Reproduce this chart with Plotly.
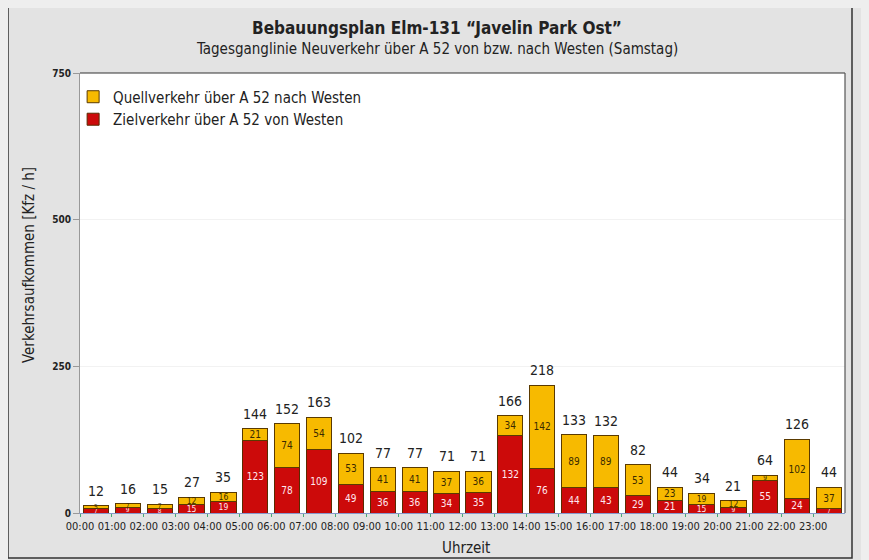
import plotly.graph_objects as go

hours = ["00:00", "01:00", "02:00", "03:00", "04:00", "05:00", "06:00", "07:00",
         "08:00", "09:00", "10:00", "11:00", "12:00", "13:00", "14:00", "15:00",
         "16:00", "17:00", "18:00", "19:00", "20:00", "21:00", "22:00", "23:00"]
ziel = [7, 9, 8, 15, 19, 123, 78, 109, 49, 36, 36, 34, 35, 132, 76, 44, 43, 29, 21, 15, 9, 55, 24, 7]
quell = [5, 7, 7, 12, 16, 21, 74, 54, 53, 41, 41, 37, 36, 34, 142, 89, 89, 53, 23, 19, 12, 9, 102, 37]
totals = [12, 16, 15, 27, 35, 144, 152, 163, 102, 77, 77, 71, 71, 166, 218, 133, 132, 82, 44, 34, 21, 64, 126, 44]
y_ticks = [0, 250, 500, 750]

FONT = "DejaVu Sans Condensed, Roboto, sans-serif"
xpos = [i + 0.5 for i in range(len(hours))]


def seg_sizes(vals):
    # very thin segments get a smaller label, as in the original
    return [6.5 if v < 10 else (8.5 if v < 20 else 10) for v in vals]


fig = go.Figure()
fig.add_trace(go.Bar(
    x=xpos, y=ziel, name="Zielverkehr über A 52 von Westen", legendgroup="z",
    marker=dict(color="#CC0A0A", line=dict(color="#5a2a00", width=1)),
    text=[str(v) for v in ziel], textposition="inside", insidetextanchor="middle",
    constraintext="none", textangle=0,
    textfont=dict(color="#ffe8f0", size=seg_sizes(ziel), family=FONT), legendrank=2,
    width=0.79,
))
fig.add_trace(go.Bar(
    x=xpos, y=quell, name="Quellverkehr über A 52 nach Westen", legendgroup="q",
    marker=dict(color="#F7BA00", line=dict(color="#5a3a00", width=1)),
    text=[str(v) for v in quell], textposition="inside", insidetextanchor="middle",
    constraintext="none", textangle=0,
    textfont=dict(color="#3a2a00", size=seg_sizes(quell), family=FONT), legendrank=1,
    width=0.79,
))

# page body has an 8px margin: screen coords are figure coords + 8
def px_x(p):
    return (p - 80) / 765.0

def px_y(p):
    return (513 - p) / 440.0

shapes = [
    dict(type="rect", xref="paper", yref="paper", x0=px_x(8), x1=px_x(852), y0=px_y(6), y1=px_y(558),
         fillcolor="rgba(0,0,0,0)", line=dict(color="#333", width=1.5), layer="above"),
    dict(type="line", xref="paper", yref="paper", x0=0, x1=1, y0=1, y1=1,
         line=dict(color="#333", width=1.2)),
    dict(type="line", xref="paper", yref="paper", x0=1, x1=1, y0=0, y1=1,
         line=dict(color="#555", width=1.2)),
]

def label(text, sx, sy, size, angle=0):
    return dict(text=text, xref="paper", yref="paper", x=px_x(sx), y=px_y(sy),
                xanchor="center", yanchor="middle", textangle=angle, showarrow=False,
                font=dict(size=size, color="#222", family=FONT))

annotations = [
    label("<b>Bebauungsplan Elm-131 “Javelin Park Ost”</b>", 437, 28, 17),
    label("Tagesganglinie Neuverkehr über A 52 von bzw. nach Westen (Samstag)", 437, 49, 15),
    label("Verkehrsaufkommen [Kfz / h]", 29, 265, 15, -90),
    label("Uhrzeit", 466, 548, 15),
]
for xv, tv in zip(xpos, totals):
    annotations.append(dict(x=xv, y=tv, xref="x", yref="y", text=str(tv), showarrow=False,
                            yanchor="bottom", yshift=5,
                            font=dict(size=14, color="#222", family=FONT)))

fig.update_layout(
    width=869, height=560,
    margin=dict(l=72, r=32, t=65, b=55),
    paper_bgcolor="#e3e3e3", plot_bgcolor="#ffffff",
    barmode="stack",
    font=dict(family=FONT, color="#222"),
    showlegend=True,
    legend=dict(x=-0.009, y=0.983, xanchor="left", yanchor="top", traceorder="normal",
                bgcolor="rgba(0,0,0,0)", font=dict(size=15, color="#222"),
                tracegroupgap=11, itemwidth=30),
    shapes=shapes,
    annotations=annotations,
    bargap=0.18,
)
fig.update_xaxes(
    range=[0, 24], tickmode="array", tickvals=list(range(len(hours))), ticktext=hours,
    ticks="outside", ticklen=3, tickcolor="#4a7", showline=True, linecolor="#8899cc",
    linewidth=1, showgrid=False, zeroline=False, tickfont=dict(size=11, color="#222"),
    tickangle=0, fixedrange=True,
)
fig.update_yaxes(
    range=[0, 750], tickmode="array", tickvals=y_ticks, ticktext=["<b>%d</b>" % v for v in y_ticks],
    ticks="outside", ticklen=6, tickcolor="#999", showline=True, linecolor="#999",
    showgrid=True, gridcolor="#f2f2f2", zeroline=False, tickfont=dict(size=10, color="#222"),
    fixedrange=True,
)

fig.write_html("out.html", post_script="document.body.style.background='#eeeeee';")
